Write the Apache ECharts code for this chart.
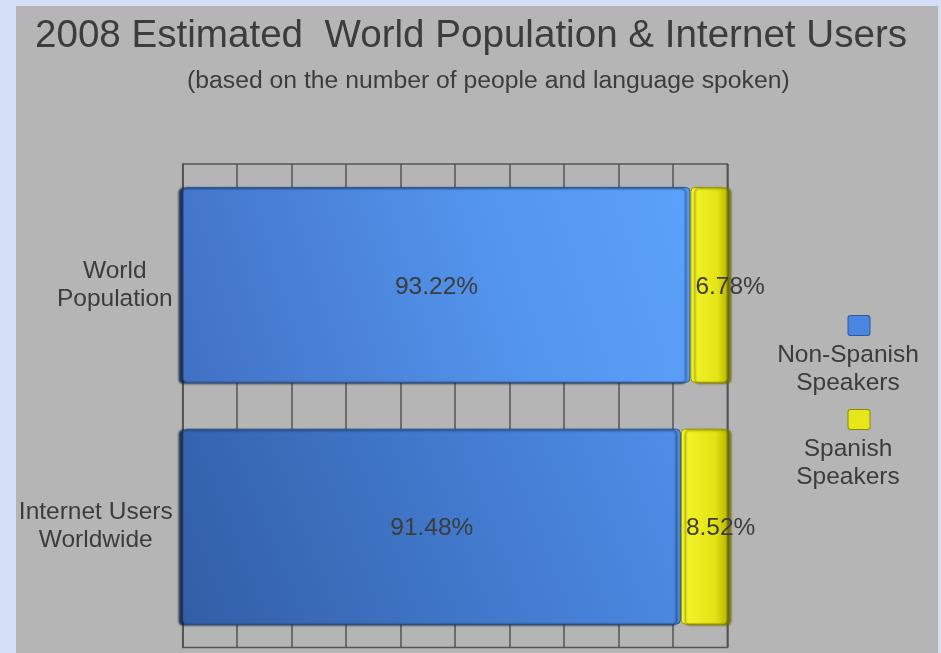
<!DOCTYPE html>
<html>
<head>
<meta charset="utf-8">
<script src="https://cdn.jsdelivr.net/npm/echarts@6/dist/echarts.min.js"></script>
<style>
html,body{margin:0;padding:0;background:#d4def6;}
#chart{width:941px;height:653px;}
</style>
</head>
<body>
<div id="chart"></div>
<script>
// ---- data ----
const categories = ['World\nPopulation', 'Internet Users\nWorldwide'];
const seriesNames = ['Non-Spanish Speakers', 'Spanish Speakers'];
const legendLines = [['Non-Spanish', 'Speakers'], ['Spanish', 'Speakers']];
const nonSpanish = [93.22, 91.48];
const spanish = [6.78, 8.52];
const titleText = '2008 Estimated  World Population & Internet Users';
const subtitleText = '(based on the number of people and language spoken)';

// ---- styles ----
const FONT = '"Liberation Sans", Arial, sans-serif';
const TXT = '#3c3c3c';
const FS = 24.5;

const blueGradients = [
  new echarts.graphic.LinearGradient(0, 1, 1, 0.2, [
    {offset: 0, color: '#4170c4'},
    {offset: 0.65, color: '#5496ee'},
    {offset: 1, color: '#5ba0fa'}
  ]),
  new echarts.graphic.LinearGradient(0, 1, 1, 0, [
    {offset: 0, color: '#315ea6'},
    {offset: 0.7, color: '#4680d6'},
    {offset: 1, color: '#4f8ee8'}
  ])
];
const yellowGradient = new echarts.graphic.LinearGradient(0, 0, 1, 0, [
  {offset: 0, color: '#f6f62c'},
  {offset: 0.75, color: '#e2e214'},
  {offset: 1, color: '#b8b800'}
]);

const chart = echarts.init(document.getElementById('chart'), null, {renderer: 'canvas'});

const legendColors = ['#4a86e0', '#e6e61a'];
const legendBorders = ['#2c5a9c', '#8c8c00'];
const rich = {
  sp: {width: 22, height: 20, align: 'center', lineHeight: 32},
  t: {fontSize: FS, lineHeight: 28, align: 'center', color: TXT, fontFamily: FONT}
};
legendColors.forEach((c, i) => {
  rich['b' + i] = {width: 21, height: 19, backgroundColor: c, borderColor: legendBorders[i],
    borderWidth: 1, borderRadius: 2, align: 'center', lineHeight: 32};
});

const option = {
  backgroundColor: '#d4def6',
  animation: false,
  graphic: [{
    type: 'rect', left: 16, top: 6, z: -10,
    shape: {width: 922, height: 660},
    style: {fill: '#b5b5b5'}
  }],
  title: [
    {text: titleText, left: 30, top: 9,
     textStyle: {fontSize: 38.6, fontWeight: 'normal', color: TXT, fontFamily: FONT, lineHeight: 44}},
    {text: subtitleText, left: 182, top: 62,
     textStyle: {fontSize: 24.75, fontWeight: 'normal', color: TXT, fontFamily: FONT, lineHeight: 28}}
  ],
  legend: {
    orient: 'vertical', left: 757, top: 308, itemGap: 11,
    itemWidth: 0, itemHeight: 0, icon: 'rect',
    selectedMode: false,
    data: seriesNames,
    formatter: function (name) {
      const i = seriesNames.indexOf(name);
      return '{sp|}{b' + i + '|}\n' + legendLines[i].map(s => '{t|' + s + '}').join('\n');
    },
    textStyle: {width: 160, fontSize: FS, color: TXT, fontFamily: FONT, rich: rich}
  },
  grid: {left: 182.7, right: 213.7, top: 164, bottom: 5.5, show: true,
    borderColor: '#555', borderWidth: 1.5, backgroundColor: 'transparent'},
  xAxis: {
    type: 'value', min: 0, max: 100, interval: 10,
    axisLabel: {show: false}, axisTick: {show: false}, axisLine: {show: false},
    splitLine: {show: true, lineStyle: {color: '#555', width: 1.5}}
  },
  yAxis: {
    type: 'category', data: categories, inverse: true,
    axisTick: {show: false},
    axisLine: {show: true, lineStyle: {color: '#555', width: 1.5}},
    axisLabel: {
      margin: 10,
      formatter: v => v.split('\n').map(s => '{t|' + s + '}').join('\n'),
      rich: {t: {fontSize: FS, lineHeight: 28, align: 'center', color: TXT, fontFamily: FONT}}
    }
  },
  series: [
    {
      name: seriesNames[0], type: 'bar', stack: 'total', barCategoryGap: '19%',
      data: nonSpanish.map((v, i) => ({value: v, itemStyle: {color: blueGradients[i]}})),
      itemStyle: {borderRadius: 4, borderColor: '#2d5896', borderWidth: 1,
        shadowColor: 'rgba(15,35,70,0.9)', shadowOffsetX: -4, shadowOffsetY: 1, shadowBlur: 2},
      label: {show: true, position: 'inside', offset: [0, 2], formatter: '{c}%', fontSize: FS, color: TXT, fontFamily: FONT}
    },
    {
      name: seriesNames[1], type: 'bar', stack: 'total',
      data: spanish,
      itemStyle: {color: yellowGradient, borderRadius: 4, borderColor: '#9a9a00', borderWidth: 1,
        shadowColor: 'rgba(110,110,0,0.9)', shadowOffsetX: 4, shadowOffsetY: 1, shadowBlur: 2},
      label: {show: true, position: 'insideLeft', distance: 5, offset: [0, 2], formatter: '{c}%', fontSize: FS, color: TXT, fontFamily: FONT}
    }
  ]
};
chart.setOption(option);
</script>
</body>
</html>
